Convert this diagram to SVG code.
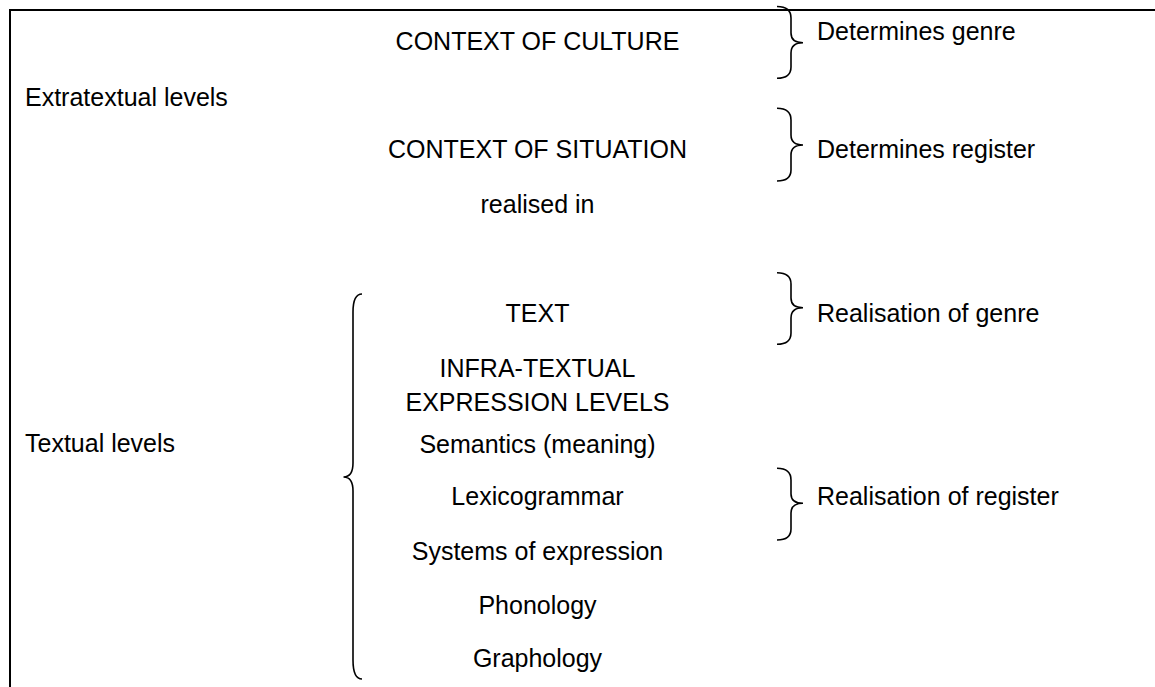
<svg xmlns="http://www.w3.org/2000/svg" width="1155" height="687" viewBox="0 0 1155 687">
<style>
text{font-family:"Liberation Sans",Arial,sans-serif;font-size:25px;fill:#000}
.c{text-anchor:middle}
.brace{fill:none;stroke:#000;stroke-width:1.6}
.frame{fill:none;stroke:#000;stroke-width:2}
</style>
<rect width="1155" height="687" fill="#fff"/>
<g id="frame">
<line class="frame" x1="10" y1="10" x2="1155" y2="10"/>
<line class="frame" x1="10" y1="9" x2="10" y2="687"/>
</g>
<g id="labels-left">
<text x="25" y="106">Extratextual levels</text>
<text x="25" y="452">Textual levels</text>
</g>
<g id="node-culture"><text class="c" x="537.5" y="50">CONTEXT OF CULTURE</text></g>
<g id="node-situation"><text class="c" x="537.5" y="158">CONTEXT OF SITUATION</text></g>
<g id="node-realised"><text class="c" x="537.5" y="212.5">realised in</text></g>
<g id="node-text"><text class="c" x="537.5" y="321.5">TEXT</text></g>
<g id="node-infra"><text class="c" x="537.5" y="376.5">INFRA-TEXTUAL</text><text class="c" x="537.5" y="410.5">EXPRESSION LEVELS</text></g>
<g id="node-semantics"><text class="c" x="537.5" y="452.5">Semantics (meaning)</text></g>
<g id="node-lexico"><text class="c" x="537.5" y="505">Lexicogrammar</text></g>
<g id="node-systems"><text class="c" x="537.5" y="560">Systems of expression</text></g>
<g id="node-phonology"><text class="c" x="537.5" y="614">Phonology</text></g>
<g id="node-graphology"><text class="c" x="537.5" y="666.5">Graphology</text></g>
<g id="connectors">
<path class="brace" d="M777,6.5 Q791,6.5 791,18 L791,33 Q791,42.7 803,42.7 Q791,42.7 791,53 L791,67 Q791,78.3 777,78.3"/>
<path class="brace" d="M777,108.3 Q791,108.3 791,120 L791,135 Q791,145 803,145 Q791,145 791,155 L791,170 Q791,181 777,181"/>
<path class="brace" d="M777,272.7 Q791,272.7 791,284 L791,298 Q791,307.7 803,307.7 Q791,307.7 791,318 L791,333 Q791,344.3 777,344.3"/>
<path class="brace" d="M777,468.3 Q791,468.3 791,480 L791,494 Q791,503.3 803,503.3 Q791,503.3 791,513 L791,529 Q791,540 777,540"/>
<path class="brace" d="M362,294 Q353,294 353,312 L353,463 Q353,477 343.5,477 Q353,477 353,491 L353,660 Q353,679 362,679"/>
</g>
<g id="labels-right">
<text x="817" y="40">Determines genre</text>
<text x="817" y="158">Determines register</text>
<text x="817" y="321.5">Realisation of genre</text>
<text x="817" y="505">Realisation of register</text>
</g>
</svg>
